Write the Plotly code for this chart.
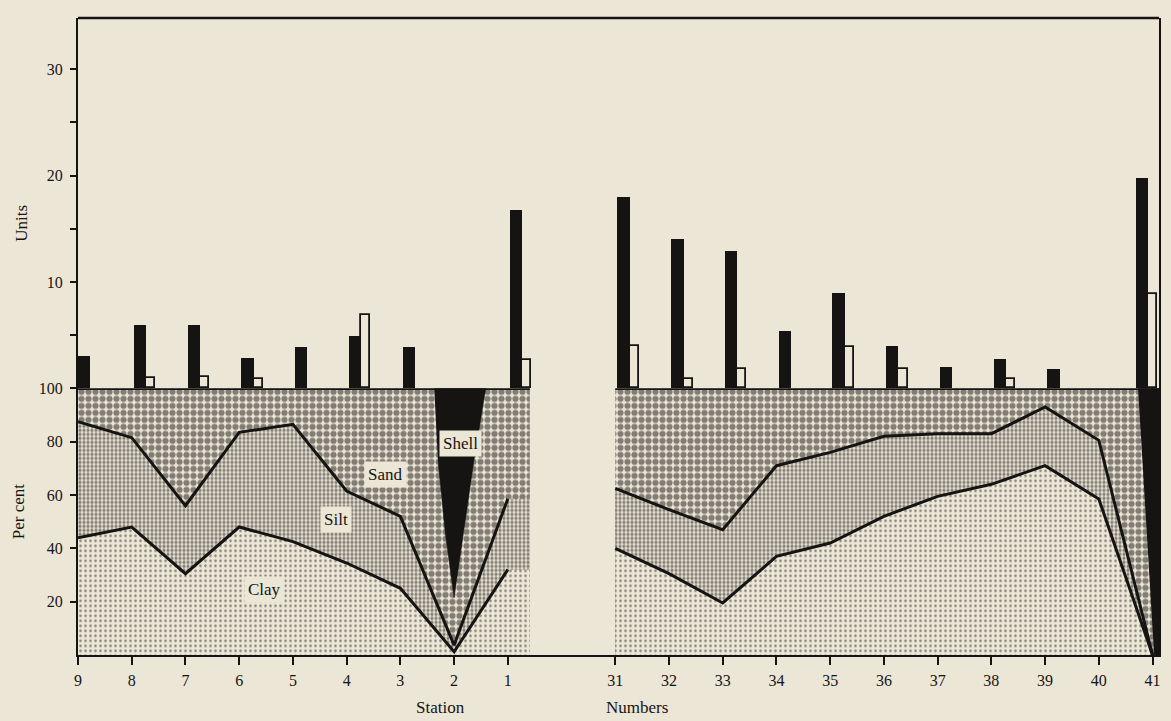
import plotly.graph_objects as go

# ---------------- data ----------------
station_labels = ["9", "8", "7", "6", "5", "4", "3", "2", "1",
                  "31", "32", "33", "34", "35", "36", "37", "38", "39", "40", "41"]
# position of each station along the axis (gap of one slot between the two series)
station_pos = [0, 1, 2, 3, 4, 5, 6, 7, 8,
               10, 11, 12, 13, 14, 15, 16, 17, 18, 19, 20]

# upper panel: units (black bars and open bars)
black_units = [3.0, 6.0, 6.0, 2.9, 3.9, 4.9, 3.9, None, 16.8,
               18.0, 14.0, 12.9, 5.4, 9.0, 4.0, 2.0, 2.8, 1.8, None, 19.8]
open_units = [None, 1.0, 1.1, 0.9, None, 6.9, None, None, 2.7,
              4.0, 0.9, 1.8, None, 3.9, 1.8, None, 0.9, None, None, 8.9]

# lower panel: per cent composition
clay_pct = [44.0, 48.0, 30.5, 48.0, 42.5, 34.5, 25.0, 1.2, 32.0,
            40.0, 30.5, 19.5, 37.0, 42.0, 52.0, 59.5, 64.0, 71.0, 58.5, 0.0]
silt_pct = [43.5, 33.5, 25.5, 35.5, 44.0, 27.0, 27.0, 2.5, 26.6,
            22.5, 24.0, 27.5, 34.0, 34.0, 30.0, 23.5, 19.0, 22.0, 22.0, 0.0]

# shell wedges (outline relative to the station, per cent)
shell2_dx = [-0.37, 0.59, 0.37, 0.17, 0.0, -0.16, -0.30]
shell2_pct = [100, 100, 73, 45, 21.5, 45, 73]
shell41_dx = [-0.27, 0.12, 0.12, 0.03]
shell41_pct = [100, 100, 0, 0]

units_ticks = [5, 10, 15, 20, 25, 30]
units_ticktext = ["", "10", "", "20", "", "30"]
pct_ticks = [20, 40, 60, 80, 100]
pct_ticktext = ["20", "40", "60", "80", "100"]

# ---------------- style ----------------
INK = "#161413"
PAPER = "#ece6d6"
FONT = "Liberation Serif"
X_MAX = 20.12
LEFT_END = 8.41      # right edge of the first block
RIGHT_START = 10.0

sand_pat = dict(shape=".", size=7, solidity=0.62, fgcolor=INK, bgcolor=PAPER)
silt_pat = dict(shape=".", size=4, solidity=0.52, fgcolor=INK, bgcolor=PAPER)
clay_pat = dict(shape=".", size=5, solidity=0.2, fgcolor=INK, bgcolor=PAPER)

top_silt = [c + s for c, s in zip(clay_pct, silt_pct)]
nl = 9  # stations in the first block

fig = go.Figure()

def block(xs, ys, pat, extend_to=None):
    x = list(xs)
    y = list(ys)
    if extend_to is not None:
        x.append(extend_to)
        y.append(ys[-1])
    fig.add_trace(go.Scatter(x=x, y=y, mode="lines", fill="tozeroy",
                             line=dict(width=0, color=INK),
                             fillpattern=pat, hoverinfo="skip",
                             xaxis="x", yaxis="y", showlegend=False))

# sand background blocks (with the thick 100 % line)
for x0, x1 in [(0, LEFT_END), (RIGHT_START, X_MAX)]:
    fig.add_trace(go.Scatter(x=[x0, x1], y=[100, 100], mode="lines", fill="tozeroy",
                             line=dict(width=3.5, color=INK), fillpattern=sand_pat,
                             hoverinfo="skip", showlegend=False))

# silt and clay fills
block(station_pos[:nl], top_silt[:nl], silt_pat, LEFT_END)
block(station_pos[nl:], top_silt[nl:], silt_pat)
block(station_pos[:nl], clay_pct[:nl], clay_pat, LEFT_END)
block(station_pos[nl:], clay_pct[nl:], clay_pat)

# shell wedges
p2 = station_pos[station_labels.index("2")]
p41 = station_pos[station_labels.index("41")]
fig.add_trace(go.Scatter(x=[p2 + d for d in shell2_dx], y=shell2_pct, mode="lines",
                         fill="toself", fillcolor=INK, line=dict(width=0.5, color=INK),
                         hoverinfo="skip", showlegend=False))
fig.add_trace(go.Scatter(x=[p41 + d for d in shell41_dx], y=shell41_pct, mode="lines",
                         fill="toself", fillcolor=INK, line=dict(width=0.5, color=INK),
                         hoverinfo="skip", showlegend=False))

# boundary lines
for sl in [slice(0, nl), slice(nl, None)]:
    for ys in (top_silt, clay_pct):
        fig.add_trace(go.Scatter(x=station_pos[sl], y=ys[sl], mode="lines",
                                 line=dict(width=3, color=INK), hoverinfo="skip",
                                 showlegend=False))

# bars (upper panel)
black_off = [0.0 if s == "9" else (-0.31 if s == "41" else 0.04) for s in station_labels]
open_off = [-0.08 if s == "41" else 0.27 for s in station_labels]
fig.add_trace(go.Bar(x=station_pos, y=black_units, xaxis="x", yaxis="y2",
                     width=0.23, offset=black_off, marker=dict(color=INK, line=dict(width=0)),
                     showlegend=False))
fig.add_trace(go.Bar(x=station_pos, y=open_units, xaxis="x", yaxis="y2",
                     width=0.17, offset=open_off,
                     marker=dict(color=PAPER, line=dict(width=1.8, color=INK)),
                     showlegend=False))

# labels in the lower panel
lab = dict(font=dict(family=FONT, size=17, color=INK), bgcolor=PAPER, showarrow=False,
           borderpad=3, xref="x", yref="y")
fig.add_annotation(text="Shell", x=7.11, y=79.3, **lab)
fig.add_annotation(text="Sand", x=5.73, y=67.8, **lab)
fig.add_annotation(text="Silt", x=4.81, y=50.7, **lab)
fig.add_annotation(text="Clay", x=3.47, y=24.4, **lab)

# axis titles
tt = dict(font=dict(family=FONT, size=17, color=INK), showarrow=False,
          xref="paper", yref="paper", xanchor="center", yanchor="middle")
fig.add_annotation(text="Units", x=-0.053, y=0.678, textangle=-90, **tt)
fig.add_annotation(text="Per cent", x=-0.055, y=0.225, textangle=-90, **tt)
fig.add_annotation(text="Station", x=0.335, y=-0.082, **tt)
fig.add_annotation(text="Numbers", x=0.517, y=-0.082, **tt)

split = 270 / 645
axis_common = dict(showgrid=False, zeroline=False, showline=True, linewidth=2,
                   linecolor=INK, ticks="outside", tickwidth=2, tickcolor=INK,
                   tickfont=dict(family=FONT, size=16, color=INK))
fig.update_layout(
    width=1171, height=721,
    margin=dict(l=78, r=10, t=10, b=66, pad=0),
    paper_bgcolor=PAPER, plot_bgcolor=PAPER,
    bargap=0, barmode="overlay",
    xaxis=dict(range=[0, X_MAX], domain=[0, 1], anchor="y", tickvals=station_pos,
               ticktext=station_labels, ticklen=8, ticklabelstandoff=2, **axis_common),
    yaxis=dict(range=[0, 100], domain=[0, split], anchor="x", tickvals=pct_ticks,
               ticktext=pct_ticktext, ticklen=6, mirror=True, ticklabelstandoff=4,
               **axis_common),
    yaxis2=dict(range=[0, 34.82], domain=[split, 1], anchor="x", tickvals=units_ticks,
                ticktext=units_ticktext, ticklen=6, mirror=True, ticklabelstandoff=4,
                **axis_common),
    shapes=[dict(type="line", xref="paper", yref="paper", x0=0, x1=1, y0=1, y1=1,
                 line=dict(color=INK, width=2.5))],
)

fig.write_html(
    "out.html",
    config={"displayModeBar": False},
    post_script="document.body.style.margin='0';document.body.style.overflow='hidden';"
                "document.body.style.background='" + PAPER + "';",
)
